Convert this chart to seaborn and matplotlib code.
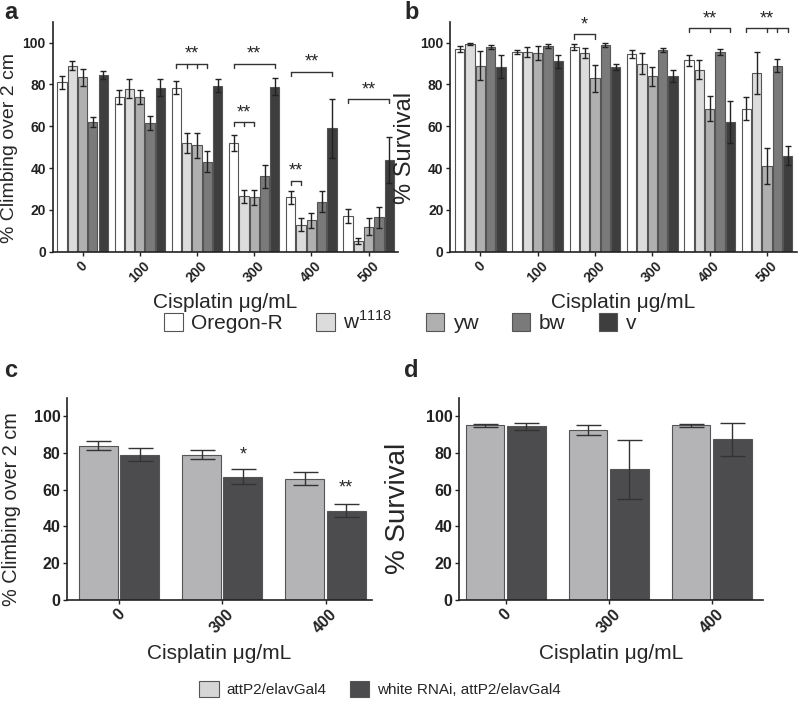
import numpy as np
import pandas as pd
import matplotlib
matplotlib.use("Agg")
import matplotlib.pyplot as plt
import matplotlib.patches as mpatches
from matplotlib import font_manager
import seaborn as sns

# ---- data ----
doses_ab = ["0", "100", "200", "300", "400", "500"]
strains = ["Oregon-R", "w1118", "yw", "bw", "v"]
strain_labels = ["Oregon-R", r"w$^\mathregular{1118}$", "yw", "bw", "v"]

# panel a: % climbing (rows = strain, cols = dose)
climb_mean = {
    "Oregon-R": [81, 74, 78.5, 52, 26, 17],
    "w1118":    [89, 78, 52, 26.5, 13, 5],
    "yw":       [83.5, 74, 51, 26, 15, 12],
    "bw":       [62, 61.5, 43, 36, 24, 16.5],
    "v":        [84.5, 78.5, 79.5, 79, 59, 44],
}
climb_err = {
    "Oregon-R": [3, 3.5, 3, 4, 3, 3.5],
    "w1118":    [2, 4.5, 5, 3, 3, 1.5],
    "yw":       [4, 3.5, 6, 3.5, 3.5, 4],
    "bw":       [2.5, 3.5, 5, 5.5, 5, 5],
    "v":        [2, 4, 3, 4, 14, 11],
}

# panel b: % survival
surv_mean = {
    "Oregon-R": [97, 95.5, 98, 94.5, 91.5, 68.5],
    "w1118":    [99.5, 95.5, 95, 90, 87, 85.5],
    "yw":       [89, 95, 83, 84, 68.5, 41],
    "bw":       [98, 98.5, 99, 96.5, 95.5, 89],
    "v":        [88.5, 91, 88.5, 84, 62, 46],
}
surv_err = {
    "Oregon-R": [1.5, 1, 1.5, 2, 2.5, 5.5],
    "w1118":    [0.5, 2.5, 2.5, 5, 4.5, 10],
    "yw":       [7, 3.5, 6.5, 4.5, 6, 8.5],
    "bw":       [1, 1, 1, 1, 1.5, 3],
    "v":        [5.5, 3, 1.5, 3, 10, 4.5],
}

# panels c, d
doses_cd = ["0", "300", "400"]
lines_cd = ["attP2/elavGal4", "white RNAi, attP2/elavGal4"]
climb_cd_mean = {"attP2/elavGal4": [84, 79, 66], "white RNAi, attP2/elavGal4": [79, 67, 48.5]}
climb_cd_err = {"attP2/elavGal4": [2.5, 2.5, 3.5], "white RNAi, attP2/elavGal4": [3.5, 4, 3.5]}
surv_cd_mean = {"attP2/elavGal4": [95, 92.5, 95], "white RNAi, attP2/elavGal4": [94.5, 71, 87.5]}
surv_cd_err = {"attP2/elavGal4": [1, 2.5, 1], "white RNAi, attP2/elavGal4": [2, 16, 9]}

strain_colors = ["#ffffff", "#dcdcdc", "#b0b0b0", "#7a7a7a", "#3e3e3e"]
cd_colors = ["#b4b4b6", "#4c4c4e"]

# the climbing labels in the figure are squeezed; use a narrow face if there is one
installed = {f.name for f in font_manager.fontManager.ttflist}
if "Liberation Sans Narrow" in installed:
    narrow, narrow_size = ["Liberation Sans Narrow", "DejaVu Sans"], 16
else:
    narrow, narrow_size = ["Liberation Sans", "DejaVu Sans"], 14


def to_long(means, errs, doses, groups):
    rows = []
    for g in groups:
        for i, d in enumerate(doses):
            rows.append({"dose": d, "group": g, "value": means[g][i], "err": errs[g][i]})
    return pd.DataFrame(rows)


def draw_bars(ax, df, doses, groups, colors, width, gap, capsize, ecolor):
    sns.barplot(data=df, x="dose", y="value", hue="group", order=doses, hue_order=groups,
                palette=colors, width=width, gap=gap, errorbar=None, ax=ax,
                edgecolor="#555555", linewidth=0.8, legend=False, saturation=1)
    centers = {}
    for g, cont in zip(groups, ax.containers):
        sub = df[df["group"] == g].set_index("dose").loc[doses]
        xs = [b.get_x() + b.get_width() / 2 for b in cont]
        ax.errorbar(xs, sub["value"], yerr=sub["err"], fmt="none", ecolor=ecolor,
                    elinewidth=1.0, capsize=capsize, capthick=1.0, zorder=5)
        centers[g] = xs
    return centers


def style_axes(ax, ylabel, xlim, ysize, ticksize=10, labx=-0.1, yfamily=None):
    ax.set_ylim(0, 110)
    ax.set_xlim(*xlim)
    ax.set_yticks([0, 20, 40, 60, 80, 100])
    kw = {"family": yfamily} if yfamily else {}
    ax.set_ylabel(ylabel, fontsize=ysize, labelpad=2, **kw)
    ax.yaxis.set_label_coords(labx, 0.45)
    ax.set_xlabel("Cisplatin μg/mL", fontsize=15, labelpad=6)
    sns.despine(ax=ax)
    for s in ["left", "bottom"]:
        ax.spines[s].set_linewidth(1.2)
        ax.spines[s].set_color("#222222")
    ax.tick_params(axis="both", labelsize=ticksize, width=1, length=3, pad=2, colors="#222222")
    for lab in ax.get_xticklabels():
        lab.set_rotation(45)
        lab.set_fontweight("bold")
        lab.set_ha("center")
    for lab in ax.get_yticklabels():
        lab.set_fontweight("bold")


def bracket(ax, x0, x1, y, inner=(), text="**", h=2.0):
    kw = dict(color="#333333", lw=1.0)
    ax.plot([x0, x1], [y, y], **kw)
    for x in [x0, x1, *inner]:
        ax.plot([x, x], [y, y - h], **kw)
    ax.text((x0 + x1) / 2, y + 0.5, text, ha="center", va="bottom", fontsize=13)


sns.set_theme(style="ticks")
plt.rcParams["font.family"] = ["Liberation Sans", "DejaVu Sans"]

fig = plt.figure(figsize=(8, 7.03), dpi=100)
ax_a = fig.add_axes([0.066, 0.642, 0.432, 0.327])
ax_b = fig.add_axes([0.563, 0.642, 0.433, 0.327])
ax_c = fig.add_axes([0.084, 0.147, 0.381, 0.287])
ax_d = fig.add_axes([0.574, 0.147, 0.380, 0.287])

# ---- panel a ----
df_a = to_long(climb_mean, climb_err, doses_ab, strains)
ca = draw_bars(ax_a, df_a, doses_ab, strains, strain_colors, 0.9, 0.1, 2.2, "#222222")
style_axes(ax_a, "% Climbing over 2 cm", (-0.52, 5.52), narrow_size, labx=-0.1, yfamily=narrow)
o, w, yw, bw, v = (ca[s] for s in strains)
bracket(ax_a, o[2], bw[2], 90, inner=(w[2], yw[2]))
bracket(ax_a, o[3], v[3], 90)
bracket(ax_a, o[3], yw[3], 62, inner=(w[3],))
bracket(ax_a, o[4], v[4], 86)
bracket(ax_a, o[4], w[4], 34)
bracket(ax_a, o[5], v[5], 73)

# ---- panel b ----
df_b = to_long(surv_mean, surv_err, doses_ab, strains)
cb = draw_bars(ax_b, df_b, doses_ab, strains, strain_colors, 0.9, 0.1, 2.2, "#222222")
style_axes(ax_b, "% Survival", (-0.52, 5.52), 17)
o, w, yw, bw, v = (cb[s] for s in strains)
bracket(ax_b, o[2], yw[2], 104, text="*")
bracket(ax_b, o[4], v[4], 107, inner=(yw[4],))
bracket(ax_b, o[5], v[5], 107, inner=(yw[5], bw[5]))

# ---- panel c ----
df_c = to_long(climb_cd_mean, climb_cd_err, doses_cd, lines_cd)
cc = draw_bars(ax_c, df_c, doses_cd, lines_cd, cd_colors, 0.8, 0.06, 9, "#333333")
style_axes(ax_c, "% Climbing over 2 cm", (-0.5, 2.45), narrow_size + 0.3, ticksize=11.5,
           labx=-0.15, yfamily=narrow)
dk = cc[lines_cd[1]]
ax_c.text(dk[1], 74, "*", ha="center", va="bottom", fontsize=13)
ax_c.text(dk[2], 56, "**", ha="center", va="bottom", fontsize=13)

# ---- panel d ----
df_d = to_long(surv_cd_mean, surv_cd_err, doses_cd, lines_cd)
draw_bars(ax_d, df_d, doses_cd, lines_cd, cd_colors, 0.8, 0.06, 9, "#333333")
style_axes(ax_d, "% Survival", (-0.45, 2.5), 20, ticksize=11.5, labx=-0.16)

# ---- panel letters ----
for x, y, t in [(0.005, 0.999, "a"), (0.505, 0.999, "b"), (0.005, 0.49, "c"), (0.505, 0.49, "d")]:
    fig.text(x, y, t, fontsize=17, fontweight="bold", va="top")

# ---- legends ----
h_ab = [mpatches.Patch(facecolor=c, edgecolor="#555555", linewidth=0.8) for c in strain_colors]
fig.legend(h_ab, strain_labels, loc="center", bbox_to_anchor=(0.5, 0.542), ncol=5,
           frameon=False, fontsize=15, handlelength=0.9, handleheight=0.9,
           handletextpad=0.4, columnspacing=1.6)

h_cd = [mpatches.Patch(facecolor=c, edgecolor="#555555", linewidth=0.8)
        for c in ["#d6d6d6", "#4c4c4e"]]
fig.legend(h_cd, lines_cd, loc="center", bbox_to_anchor=(0.475, 0.02), ncol=2,
           frameon=False, fontsize=11, handlelength=1.3, handleheight=1.3,
           handletextpad=0.5, columnspacing=1.5)

fig.savefig("out.png", dpi=100, facecolor="white")
